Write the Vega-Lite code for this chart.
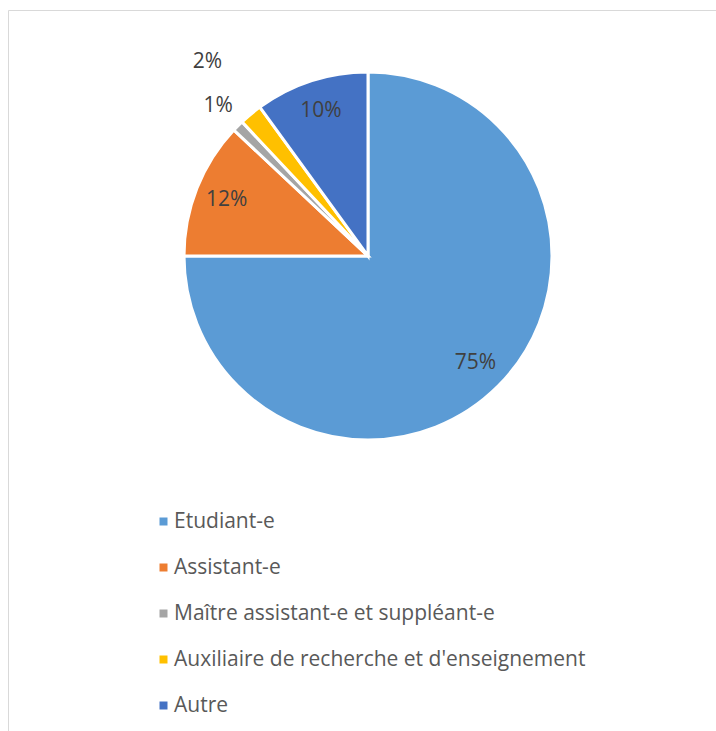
{
  "$schema": "https://vega.github.io/schema/vega-lite/v6.json",
  "width": 720,
  "height": 731,
  "padding": {"left": 8, "top": 10, "right": 0, "bottom": 0},
  "autosize": {"type": "none"},
  "background": "white",
  "view": {"stroke": "#d9d9d9", "strokeWidth": 1, "fill": "white"},
  "data": {
    "values": [
      {"cat": "Etudiant-e", "pct": 0.75, "order": 1},
      {"cat": "Assistant-e", "pct": 0.12, "order": 2},
      {"cat": "Maître assistant-e et suppléant-e", "pct": 0.01, "order": 3},
      {"cat": "Auxiliaire de recherche et d'enseignement", "pct": 0.02, "order": 4},
      {"cat": "Autre", "pct": 0.10, "order": 5}
    ]
  },
  "encoding": {
    "theta": {"field": "pct", "type": "quantitative", "stack": true},
    "order": {"field": "order", "type": "quantitative"}
  },
  "layer": [
    {
      "mark": {"type": "arc", "outerRadius": 184, "x": 360, "y": 246, "stroke": "white", "strokeWidth": 3},
      "encoding": {
        "color": {
          "field": "cat",
          "type": "nominal",
          "sort": ["Etudiant-e", "Assistant-e", "Maître assistant-e et suppléant-e", "Auxiliaire de recherche et d'enseignement", "Autre"],
          "scale": {
            "domain": ["Etudiant-e", "Assistant-e", "Maître assistant-e et suppléant-e", "Auxiliaire de recherche et d'enseignement", "Autre"],
            "range": ["#5B9BD5", "#ED7D31", "#A5A5A5", "#FFC000", "#4472C4"]
          },
          "legend": {
            "orient": "none",
            "legendX": 145,
            "legendY": 501,
            "title": null,
            "padding": 0,
            "symbolType": "square",
            "symbolSize": 64,
            "symbolStrokeWidth": 0,
            "labelFont": "Open Sans",
            "labelFontSize": 21,
            "labelColor": "#595959",
            "labelOffset": 0,
            "labelLimit": 600,
            "rowPadding": 24,
            "direction": "vertical"
          }
        }
      }
    },
    {
      "mark": {"type": "text", "radius": 152, "x": 360, "y": 246, "font": "Open Sans", "fontSize": 21, "fill": "#404040"},
      "encoding": {
        "text": {"condition": {"test": "datum.pct >= 0.05", "field": "pct", "type": "quantitative", "format": ".0%"}, "value": ""}
      }
    },
    {
      "mark": {"type": "text", "radius": 212, "x": 360, "y": 246, "font": "Open Sans", "fontSize": 21, "fill": "#404040"},
      "encoding": {
        "text": {"condition": {"test": "datum.pct < 0.015", "field": "pct", "type": "quantitative", "format": ".0%"}, "value": ""}
      }
    },
    {
      "mark": {"type": "text", "radius": 252, "x": 360, "y": 246, "font": "Open Sans", "fontSize": 21, "fill": "#404040"},
      "encoding": {
        "text": {"condition": {"test": "datum.pct > 0.015 && datum.pct < 0.05", "field": "pct", "type": "quantitative", "format": ".0%"}, "value": ""}
      }
    }
  ]
}
